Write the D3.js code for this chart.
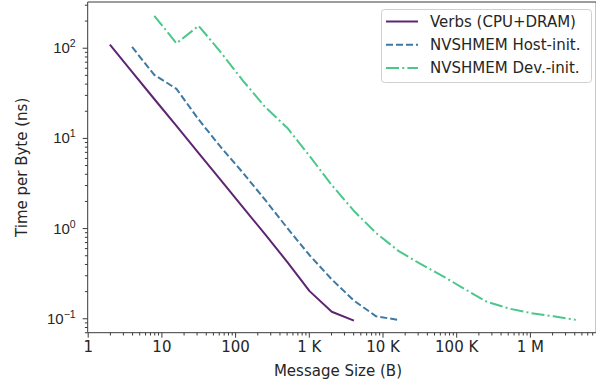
<!DOCTYPE html>
<html>
<head>
<meta charset="utf-8">
<script src="https://cdn.jsdelivr.net/npm/d3@7/dist/d3.min.js"></script>
<style>
  html, body { margin: 0; padding: 0; background: #fff; }
  svg { display: block; font-family: "DejaVu Sans", sans-serif; }
</style>
</head>
<body>
<svg id="chart" width="596" height="381"></svg>
<script>
// ---- Data ----
const seriesNames = ["Verbs (CPU+DRAM)", "NVSHMEM Host-init.", "NVSHMEM Dev.-init."];
const verbsSizes = [2, 4, 8, 16, 32, 64, 128, 256, 512, 1024, 2048, 4096];
const verbsTime  = [108, 54, 27, 13.6, 6.8, 3.4, 1.7, 0.85, 0.42, 0.2, 0.118, 0.094];
const hostSizes  = [4, 8, 16, 32, 64, 128, 256, 512, 1024, 2048, 4096, 8192, 16384];
const hostTime   = [102, 50, 35, 16, 7.9, 4.1, 2.05, 1.0, 0.5, 0.27, 0.157, 0.105, 0.096];
const devSizes   = [8, 16, 32, 64, 128, 256, 512, 1024, 2048, 4096, 8192, 16384, 32768,
                    65536, 131072, 262144, 524288, 1048576, 2097152, 4194304];
const devTime    = [226, 112, 175, 89, 43, 22, 12.9, 6.3, 3.0, 1.55, 0.88, 0.56, 0.40,
                    0.294, 0.21, 0.152, 0.128, 0.114, 0.105, 0.096];
const xTickValues = [1, 10, 100, 1e3, 1e4, 1e5, 1e6];
const xTickLabels = ["1", "10", "100", "1 K", "10 K", "100 K", "1 M"];
const yTickExps   = [-1, 0, 1, 2];
const xLabel = "Message Size (B)";
const yLabel = "Time per Byte (ns)";

// ---- Layout ----
const svg = d3.select("#chart");
const mLeft = 87.7, mTop = 2, mBottom = 332.7;
const decadeX = 73.7;
const mRight = mLeft + 6.9 * decadeX;
const fs = 15;
const colors = ["#5e2572", "#3e79a3", "#4cc78c"];
const dashes = [null, "7,3", "13,3.2,2,3.2"];

const x = d3.scaleLog().domain([1, Math.pow(10, 6.9)]).range([mLeft, mRight]);
const y = d3.scaleLog().domain([Math.pow(10, -1.16), Math.pow(10, 2.507)]).range([mBottom, mTop]);

const textColor = "#262626";
const axisColor = "#3a3a3a";

// minor ticks
const xMinor = [];
for (let e = 0; e <= 6; e++) for (let m = 2; m <= 9; m++) {
  const v = m * Math.pow(10, e);
  if (v <= x.domain()[1]) xMinor.push(v);
}
const yMinor = [];
for (let e = -2; e <= 2; e++) for (let m = 2; m <= 9; m++) {
  const v = m * Math.pow(10, e);
  if (v >= y.domain()[0] && v <= y.domain()[1]) yMinor.push(v);
}

// X axis
const xAxisG = svg.append("g").attr("transform", `translate(0,${mBottom})`);
xAxisG.call(d3.axisBottom(x).tickValues(xTickValues).tickFormat((d, i) => xTickLabels[i])
  .tickSize(5).tickPadding(4));
xAxisG.append("g").call(d3.axisBottom(x).tickValues(xMinor).tickFormat("").tickSize(2.8));
xAxisG.selectAll(".domain").remove();
xAxisG.selectAll("line").attr("stroke", axisColor).attr("stroke-width", 1);
xAxisG.selectAll("text").attr("fill", textColor).style("font-size", fs + "px")
  .style("font-family", "DejaVu Sans");

// Y axis
const yAxisG = svg.append("g").attr("transform", `translate(${mLeft},0)`);
const yMajor = yTickExps.map(e => Math.pow(10, e));
yAxisG.call(d3.axisLeft(y).tickValues(yMajor).tickFormat("").tickSize(5));
yAxisG.append("g").call(d3.axisLeft(y).tickValues(yMinor).tickFormat("").tickSize(2.8));
yAxisG.selectAll(".domain").remove();
yAxisG.selectAll("line").attr("stroke", axisColor).attr("stroke-width", 1);
yAxisG.selectAll(".ytl").data(yTickExps).enter().append("text")
  .attr("class", "ytl")
  .attr("x", -12)
  .attr("y", d => y(Math.pow(10, d)) + 5.5)
  .attr("text-anchor", "end")
  .attr("fill", textColor)
  .style("font-size", fs + "px")
  .each(function(d) {
    const t = d3.select(this);
    t.append("tspan").text("10");
    t.append("tspan").attr("dy", -6).style("font-size", (fs * 0.7) + "px")
      .text(d < 0 ? "\u2212" + Math.abs(d) : String(d));
  });

// spines
const spine = (x1, y1, x2, y2) => svg.append("line")
  .attr("x1", x1).attr("y1", y1).attr("x2", x2).attr("y2", y2)
  .attr("stroke", axisColor).attr("stroke-width", 1);
spine(mLeft, mTop, mLeft, mBottom);
spine(mLeft, mBottom, mRight, mBottom);
spine(mLeft, mTop, mRight, mTop);
spine(mRight, mTop, mRight, mBottom);

// lines
const line = d3.line().x(d => x(d[0])).y(d => y(d[1]));
const seriesData = [
  d3.zip(verbsSizes, verbsTime),
  d3.zip(hostSizes, hostTime),
  d3.zip(devSizes, devTime)
];
seriesData.forEach((data, i) => {
  svg.append("path").datum(data)
    .attr("d", line)
    .attr("fill", "none")
    .attr("stroke", colors[i])
    .attr("stroke-width", 2)
    .attr("stroke-dasharray", dashes[i])
    .attr("stroke-linejoin", "round");
});

// axis labels
svg.append("text").attr("x", (mLeft + mRight) / 2 - 4).attr("y", 376)
  .attr("text-anchor", "middle").attr("fill", textColor)
  .style("font-size", fs + "px").text(xLabel);
svg.append("text").attr("transform", `translate(27,${(mTop + mBottom) / 2}) rotate(-90)`)
  .attr("text-anchor", "middle").attr("fill", textColor)
  .style("font-size", fs + "px").text(yLabel);

// legend
const lg = svg.append("g");
lg.append("rect").attr("x", 381.5).attr("y", 9.5).attr("width", 210).attr("height", 73)
  .attr("rx", 3).attr("fill", "#fff").attr("fill-opacity", 0.85)
  .attr("stroke", "#d0d0d0").attr("stroke-width", 1);
seriesNames.forEach((name, i) => {
  const cy = 21.5 + i * 23.3;
  lg.append("line").attr("x1", 386).attr("x2", 418).attr("y1", cy).attr("y2", cy)
    .attr("stroke", colors[i]).attr("stroke-width", 2)
    .attr("stroke-dasharray", dashes[i]);
  lg.append("text").attr("x", 430).attr("y", cy + 5.3).attr("fill", textColor)
    .style("font-size", fs + "px").text(name);
});
</script>
</body>
</html>
